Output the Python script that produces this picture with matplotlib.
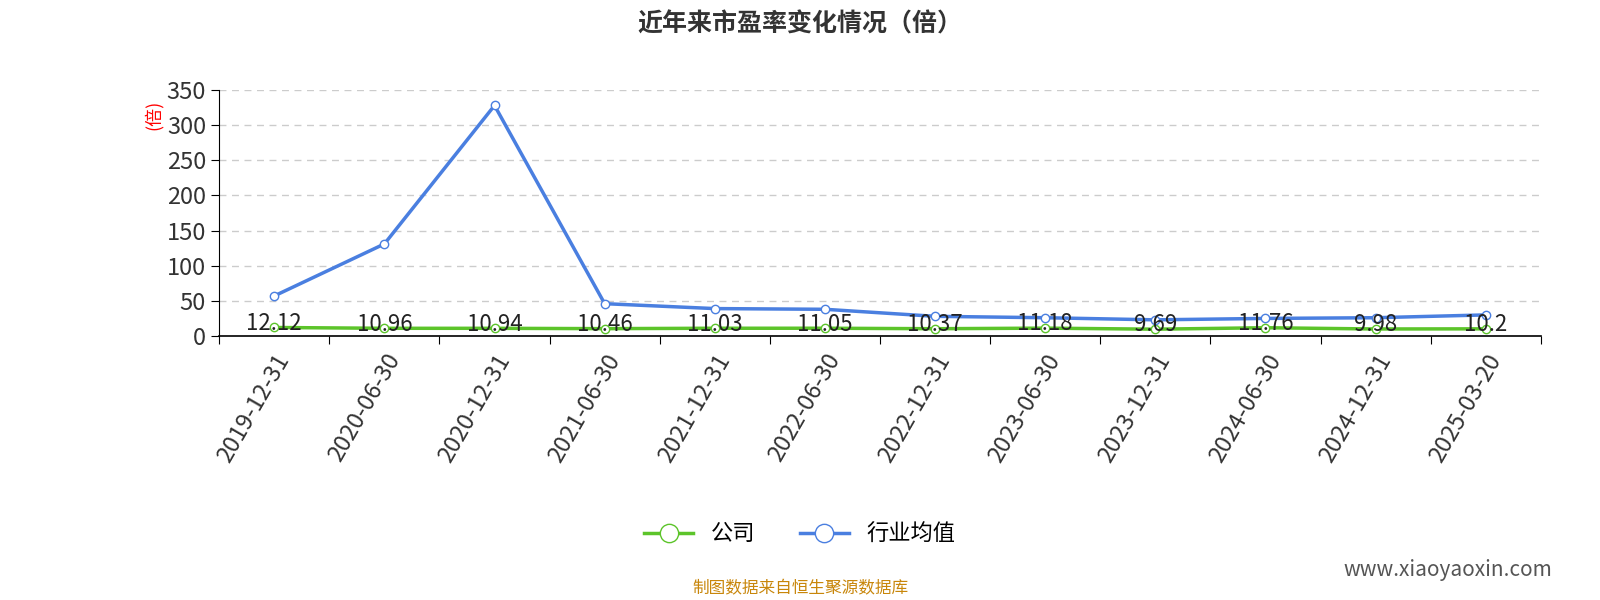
import matplotlib
matplotlib.use("Agg")
import matplotlib.pyplot as plt

plt.rcParams['font.family'] = ['Noto Sans CJK SC', 'DejaVu Sans']

dates = ["2019-12-31","2020-06-30","2020-12-31","2021-06-30","2021-12-31","2022-06-30",
         "2022-12-31","2023-06-30","2023-12-31","2024-06-30","2024-12-31","2025-03-20"]
company = [12.12,10.96,10.94,10.46,11.03,11.05,10.37,11.18,9.69,11.76,9.98,10.2]
industry = [57,131,328,46,39,38,28,26,23,25,26,30]

fig = plt.figure(figsize=(16,6), dpi=100)
ax = fig.add_axes([0.137,0.44,0.826,0.41])
x = list(range(len(dates)))
ax.plot(x, company, color='#5cc42a', lw=2.5, marker='o', ms=6, mfc='white', mec='#5cc42a', label='公司', zorder=3)
ax.plot(x, industry, color='#4a7fe0', lw=2.5, marker='o', ms=6, mfc='white', mec='#4a7fe0', label='行业均值', zorder=3)
for xi, v in zip(x, company):
    ax.text(xi, v+6, f"{v:g}", ha='center', va='center', fontsize=16, color='#222222', zorder=4)
ax.set_xlim(-0.5, len(dates)-0.5)
ax.set_ylim(0,350)
ax.set_yticks(range(0,351,50))
ax.yaxis.grid(True, ls=(0,(5,4)), color='#cccccc', lw=1)
ax.set_axisbelow(True)
ax.set_xticks([i-0.5 for i in range(len(dates)+1)], minor=False)
ax.set_xticklabels([])
ax.set_xticks(x, minor=True)
ax.set_xticklabels(dates, minor=True, rotation=60, ha='right', rotation_mode='anchor', fontsize=17, color='#333333')
ax.tick_params(axis='x', which='major', length=6)
ax.tick_params(axis='x', which='minor', length=0, pad=10)
ax.tick_params(axis='y', labelsize=17, labelcolor='#333333', length=6)
for s in ['top','right']:
    ax.spines[s].set_visible(False)
ax.spines['bottom'].set_linewidth(1.2)
ax.text(-0.05, 0.9, '(倍)', transform=ax.transAxes, rotation=90, color='red', fontsize=13, ha='center', va='center')
fig.text(0.5, 0.96, '近年来市盈率变化情况（倍）', ha='center', va='center', fontsize=18, fontweight='bold', color='#333333')
fig.legend(loc='center', bbox_to_anchor=(0.5, 0.11), ncol=2, frameon=False, fontsize=16, markerscale=2.2, handlelength=2.2)
fig.text(0.5, 0.018, '制图数据来自恒生聚源数据库', ha='center', va='center', fontsize=12, color='#c8860a')
fig.text(0.905, 0.05, 'www.xiaoyaoxin.com', ha='center', va='center', fontsize=15, color='#555555')
fig.savefig('out.png')
